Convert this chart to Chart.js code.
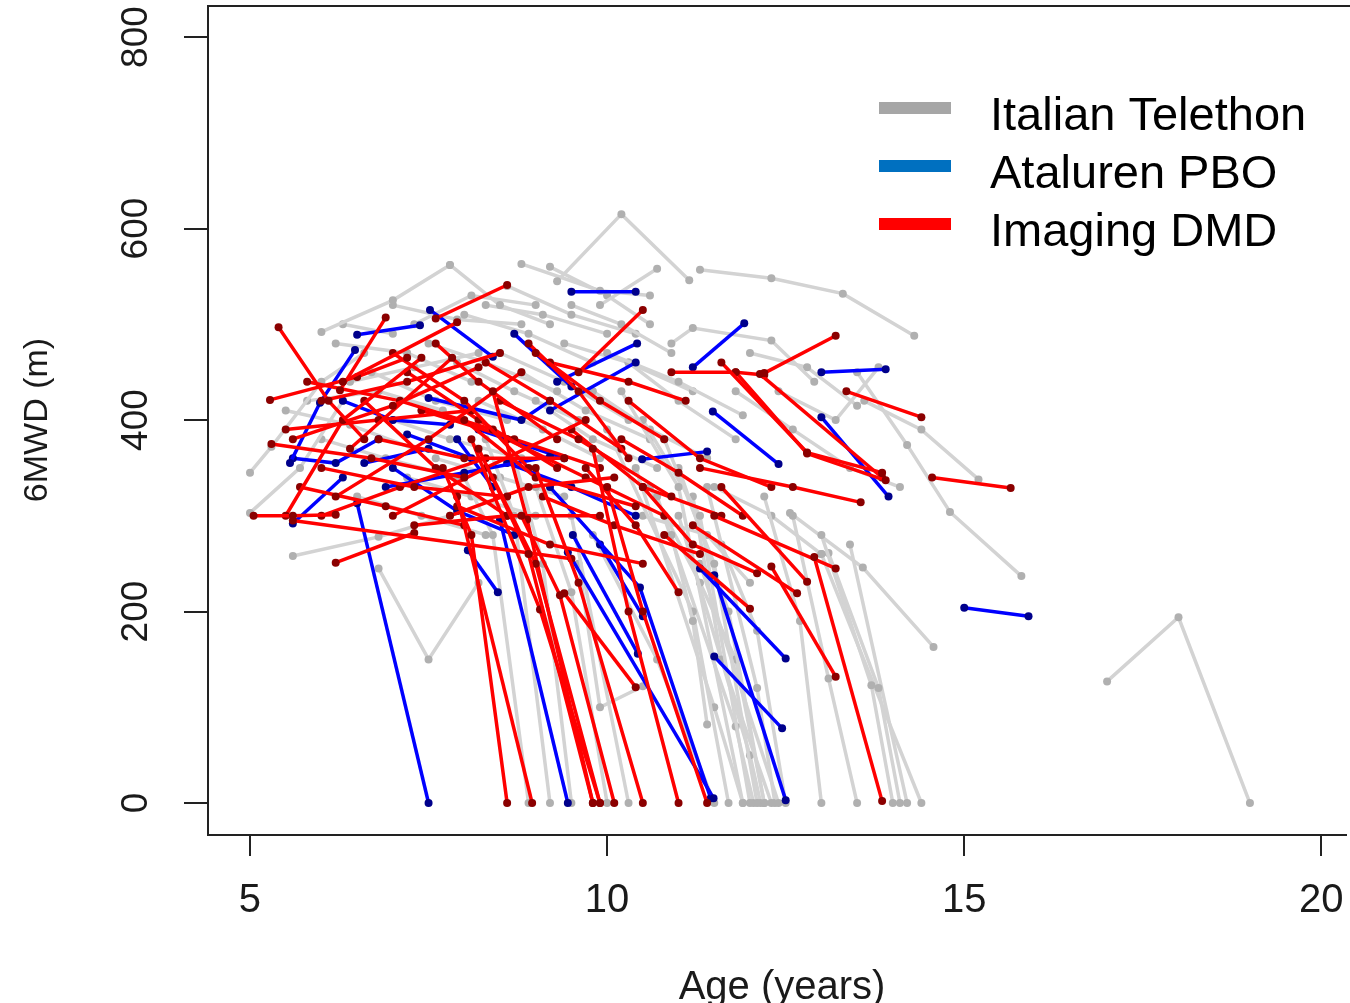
<!DOCTYPE html>
<html>
<head>
<meta charset="utf-8">
<script src="https://cdn.jsdelivr.net/npm/chart.js@4.4.1/dist/chart.umd.min.js"></script>
<style>
  html, body { margin: 0; padding: 0; background: #fff; overflow: hidden; }
  #wrap { width: 1350px; height: 1003px; }
</style>
</head>
<body>
<div id="wrap"><canvas id="chart" width="1350" height="1003"></canvas></div>
<script>
// tick labels and legend
const xTicks = [5, 10, 15, 20];
const yTicks = [0, 200, 400, 600, 800];
const legendLabels = ['Italian Telethon', 'Ataluren PBO', 'Imaging DMD'];

// trajectories: [age (years), 6MWD (m)] per visit
const telethon = [
    [[17.0, 127], [18.0, 194], [19.0, 0]],
    [[9.3, 545], [10.2, 615], [11.15, 546]],
    [[11.3, 557], [12.3, 548], [13.3, 532], [14.3, 488]],
    [[7.8, 562], [8.5, 520], [9.2, 500]],
    [[8.8, 563], [9.9, 535], [10.6, 530]],
    [[9.9, 520], [10.7, 558]],
    [[6.0, 492], [7.0, 525], [7.8, 562]],
    [[5.0, 345], [5.3, 372], [6.0, 440], [6.6, 470]],
    [[5.0, 303], [5.7, 350], [6.3, 420]],
    [[5.6, 258], [6.8, 278], [7.8, 300]],
    [[6.8, 245], [7.5, 150], [8.2, 230]],
    [[8.0, 340], [8.4, 280], [8.9, 0]],
    [[8.3, 380], [8.7, 300], [9.2, 0]],
    [[8.7, 360], [9.1, 250], [9.5, 0]],
    [[9.0, 330], [9.5, 220], [10.0, 0]],
    [[9.5, 300], [10.3, 0]],
    [[9.6, 250], [9.9, 100], [10.5, 122]],
    [[10.2, 430], [11.0, 330], [11.9, 0]],
    [[10.5, 400], [11.3, 300], [12.0, 0]],
    [[10.8, 380], [11.5, 250], [12.1, 0]],
    [[11.0, 350], [11.7, 200], [12.2, 0]],
    [[11.2, 320], [11.6, 150], [12.3, 0]],
    [[10.9, 280], [11.2, 190], [11.4, 82]],
    [[11.3, 250], [12.4, 0]],
    [[10.0, 390], [11.2, 200], [11.7, 0]],
    [[10.4, 350], [11.5, 100], [11.9, 0]],
    [[10.7, 320], [11.8, 80], [12.05, 0]],
    [[11.0, 300], [12.0, 50], [12.15, 0]],
    [[11.4, 330], [12.1, 120], [12.35, 0]],
    [[9.8, 280], [10.7, 150], [11.5, 0]],
    [[12.2, 320], [12.7, 190], [13.0, 0]],
    [[12.6, 300], [13.1, 130], [13.5, 0]],
    [[13.0, 280], [13.7, 123], [14.0, 0]],
    [[13.1, 261], [13.8, 120], [14.1, 0]],
    [[13.4, 270], [14.2, 0]],
    [[13.0, 260], [14.4, 0]],
    [[12.56, 303], [13.58, 246], [14.57, 163]],
    [[13.5, 450], [14.2, 374], [14.8, 304], [15.8, 237]],
    [[13.6, 420], [14.4, 390], [15.2, 338]],
    [[12.4, 430], [13.2, 400], [13.8, 455]],
    [[10.9, 480], [11.2, 496], [12.3, 483], [12.9, 440]],
    [[10.0, 470], [11.0, 440], [11.9, 405]],
    [[9.5, 520], [10.2, 500], [10.9, 470]],
    [[6.2, 480], [7.2, 470], [8.1, 440]],
    [[6.7, 450], [7.6, 420], [8.6, 400]],
    [[7.0, 400], [7.8, 380], [8.8, 360]],
    [[7.5, 480], [8.3, 460], [9.3, 430]],
    [[8.0, 510], [8.9, 490], [9.8, 460]],
    [[8.5, 470], [9.4, 440], [10.3, 400]],
    [[6.0, 380], [6.9, 360], [7.9, 340]],
    [[7.2, 340], [8.1, 320], [9.0, 300]],
    [[9.0, 420], [9.8, 380], [10.7, 350]],
    [[9.8, 430], [10.6, 390], [11.4, 360]],
    [[10.3, 460], [11.0, 420], [11.8, 380]],
    [[8.2, 420], [9.1, 390], [9.9, 360]],
    [[5.5, 410], [6.4, 395], [7.3, 370]],
    [[6.5, 320], [7.4, 300], [8.3, 280]],
    [[10.5, 300], [11.4, 280], [12.0, 230]],
    [[11.5, 330], [12.3, 300], [13.0, 260]],
    [[9.2, 560], [10.0, 530], [10.6, 500]],
    [[7.0, 520], [7.9, 505], [8.8, 500]],
    [[11.8, 430], [12.6, 390], [13.4, 350], [14.1, 330]],
    [[12.0, 470], [12.8, 455], [13.5, 415]],
    [[10.6, 330], [11.3, 230], [11.8, 150], [12.2, 0]],
    [[11.6, 270], [12.1, 180], [12.5, 0]],
    [[6.3, 500], [7.0, 490]],
    [[5.8, 420], [6.8, 430], [7.7, 410]],
    [[7.6, 360], [8.5, 340], [9.4, 320]],
    [[8.8, 450], [9.7, 410], [10.6, 380]],
    [[9.4, 480], [10.3, 460], [11.2, 430]],
    [[6.4, 440], [7.3, 455], [8.2, 470]],
    [[7.9, 460], [8.7, 430], [9.6, 400]],
    [[8.3, 520], [9.1, 510], [10.0, 490]],
    [[7.3, 500], [8.1, 530], [9.0, 520]],
    [[8.6, 540], [9.5, 510], [10.4, 490]]
];

const ataluren = [
    [[6.5, 313], [7.5, 0]],
    [[9.5, 534], [10.4, 534]],
    [[9.3, 440], [10.42, 480]],
    [[9.2, 410], [10.4, 460]],
    [[11.2, 455], [11.92, 501]],
    [[13.0, 450], [13.9, 453]],
    [[13.0, 403], [13.94, 320]],
    [[11.48, 409], [12.4, 354]],
    [[10.49, 359], [11.4, 367]],
    [[15.0, 204], [15.9, 195]],
    [[11.5, 153], [12.45, 78]],
    [[11.3, 245], [12.5, 151]],
    [[11.5, 238], [12.5, 3]],
    [[9.52, 280], [10.43, 156]],
    [[9.45, 262], [11.49, 5]],
    [[9.2, 330], [10.46, 225], [11.45, 5]],
    [[8.5, 296], [9.45, 0]],
    [[8.05, 264], [8.47, 220]],
    [[5.56, 355], [5.98, 418], [6.47, 473]],
    [[5.6, 292], [6.3, 340]],
    [[6.5, 489], [7.38, 499]],
    [[7.52, 515], [8.4, 466]],
    [[8.7, 490], [9.5, 435]],
    [[6.3, 420], [7.0, 400], [7.8, 395]],
    [[7.5, 423], [8.8, 400], [9.2, 420]],
    [[6.9, 330], [8.0, 345], [9.2, 362]],
    [[8.2, 390], [9.4, 360]],
    [[9.9, 270], [10.5, 195]],
    [[5.6, 360], [6.2, 355], [6.8, 380]],
    [[7.9, 380], [8.4, 330]],
    [[7.0, 350], [7.9, 305], [8.7, 280]],
    [[8.6, 355], [9.5, 330], [10.4, 300]],
    [[7.2, 385], [8.1, 360]],
    [[6.6, 355], [7.5, 370]]
];

const imaging = [
    [[5.4, 497], [6.1, 420], [6.6, 380]],
    [[7.6, 506], [8.6, 541]],
    [[6.3, 440], [7.9, 502]],
    [[9.6, 450], [10.5, 515]],
    [[12.2, 449], [13.2, 488]],
    [[13.35, 430], [14.4, 403]],
    [[14.55, 340], [15.65, 329]],
    [[11.6, 460], [12.8, 366], [13.85, 345]],
    [[11.8, 450], [12.8, 365], [13.9, 337]],
    [[12.14, 448], [13.85, 340]],
    [[11.3, 350], [12.6, 330], [13.55, 314]],
    [[12.3, 247], [13.2, 132]],
    [[12.9, 257], [13.85, 2]],
    [[11.5, 300], [13.2, 245]],
    [[11.6, 330], [12.8, 231]],
    [[11.2, 290], [12.66, 219]],
    [[10.8, 280], [12.0, 203]],
    [[7.7, 350], [8.1, 280], [8.6, 0]],
    [[7.9, 320], [8.95, 0]],
    [[8.2, 370], [8.9, 260], [9.8, 0]],
    [[8.4, 340], [9.0, 250], [9.9, 0]],
    [[8.8, 300], [9.34, 217], [10.1, 0]],
    [[9.0, 350], [9.6, 230], [10.5, 0]],
    [[9.8, 370], [10.3, 200], [11.0, 0]],
    [[10.0, 330], [10.5, 200], [11.4, 0]],
    [[8.4, 430], [8.88, 296], [9.8, 0]],
    [[8.1, 380], [9.06, 202], [9.9, 0]],
    [[9.4, 219], [10.4, 121]],
    [[5.05, 300], [5.6, 300], [6.2, 301]],
    [[5.6, 295], [9.5, 255]],
    [[6.2, 251], [7.3, 282]],
    [[5.28, 421], [6.5, 445], [7.2, 465]],
    [[5.5, 300], [6.3, 400], [7.4, 465]],
    [[5.3, 375], [6.7, 360], [8.0, 340]],
    [[5.6, 380], [7.0, 415], [8.2, 455]],
    [[6.0, 350], [7.3, 330], [8.6, 320]],
    [[6.26, 431], [6.9, 507]],
    [[6.4, 370], [7.83, 465]],
    [[7.6, 480], [8.2, 440], [9.3, 380]],
    [[6.2, 320], [7.5, 380], [8.8, 450]],
    [[7.0, 300], [8.3, 350], [9.7, 400]],
    [[7.9, 310], [9.2, 270], [10.5, 250]],
    [[7.3, 290], [8.6, 300], [9.9, 300]],
    [[8.5, 420], [9.6, 380], [10.9, 320]],
    [[9.0, 470], [9.9, 420], [10.8, 380]],
    [[9.5, 390], [10.5, 330], [11.6, 300]],
    [[10.3, 420], [11.3, 360], [12.3, 330]],
    [[10.9, 450], [11.8, 450], [12.2, 447]],
    [[9.2, 460], [10.3, 440], [11.1, 420]],
    [[8.0, 400], [9.0, 340], [10.4, 310]],
    [[6.8, 380], [8.0, 360], [9.4, 360]],
    [[6.0, 420], [7.2, 440], [8.5, 470]],
    [[9.7, 350], [10.4, 290], [11.0, 220]],
    [[10.5, 330], [11.2, 270], [12.1, 240]],
    [[7.0, 470], [8.0, 420], [8.9, 350]],
    [[8.9, 480], [9.6, 430], [10.3, 360]],
    [[5.5, 390], [6.8, 400], [8.1, 410]],
    [[5.8, 440], [7.1, 420], [8.4, 390]],
    [[6.6, 420], [7.6, 350], [8.6, 300]],
    [[7.2, 450], [8.2, 400], [9.3, 350]],
    [[6.0, 300], [7.1, 330], [8.3, 360]],
    [[7.8, 300], [8.9, 330], [10.1, 340]],
    [[8.6, 380], [9.7, 340], [10.8, 300]],
    [[9.1, 320], [10.1, 290], [11.3, 260]],
    [[5.7, 330], [6.9, 310], [8.0, 290]],
    [[8.3, 460], [9.2, 420], [10.2, 370]],
    [[10.2, 380], [11.0, 345], [11.9, 300]],
    [[7.4, 410], [8.7, 380], [9.9, 350]]
];

const FONT = '"Liberation Sans", Arial, sans-serif';
const TEXT = '#1a1a1a';

function toDatasets(list, line, dot, order) {
    return list.map(traj => ({
        data: traj.map(p => ({x: p[0], y: p[1]})),
        borderColor: line,
        borderWidth: 3.5,
        pointRadius: 4,
        pointBorderWidth: 0,
        pointBackgroundColor: dot,
        order: order
    }));
}

const datasets = [].concat(
    toDatasets(imaging, '#ff0000', '#8b0000', 1),
    toDatasets(ataluren, '#0000ff', '#00008b', 2),
    toDatasets(telethon, '#d3d3d3', '#b0b0b0', 3)
);

const rStyle = {
    id: 'rStyle',
    afterDraw(chart) {
        const {ctx, chartArea: a} = chart;
        const x = chart.scales.x, y = chart.scales.y;
        ctx.save();
        // top of the box
        ctx.strokeStyle = '#222';
        ctx.lineWidth = 2;
        ctx.beginPath();
        ctx.moveTo(a.left - 1, a.top);
        ctx.lineTo(1350, a.top);
        ctx.stroke();

        ctx.fillStyle = TEXT;
        ctx.textAlign = 'center';
        ctx.textBaseline = 'alphabetic';

        // x tick labels
        ctx.font = '40px ' + FONT;
        x.ticks.forEach(t => {
            ctx.fillText(String(t.value), x.getPixelForValue(t.value), 912);
        });
        // x title
        ctx.fillText('Age (years)', 782, 999);

        // y tick labels, rotated like R
        ctx.font = '37px ' + FONT;
        y.ticks.forEach(t => {
            ctx.save();
            ctx.translate(147, y.getPixelForValue(t.value));
            ctx.rotate(-Math.PI / 2);
            ctx.fillText(String(t.value), 0, 0);
            ctx.restore();
        });
        // y title
        ctx.save();
        ctx.font = '34px ' + FONT;
        ctx.translate(47, 420);
        ctx.rotate(-Math.PI / 2);
        ctx.fillText('6MWD (m)', 0, 0);
        ctx.restore();

        // legend
        const legendColors = ['#a6a6a6', '#0070c0', '#ff0000'];
        const rows = [108, 166, 224];
        ctx.font = '47px ' + FONT;
        ctx.textAlign = 'left';
        legendLabels.forEach((lab, i) => {
            ctx.fillStyle = legendColors[i];
            ctx.fillRect(879, rows[i] - 6, 72, 12);
            ctx.fillStyle = '#000';
            ctx.fillText(lab, 990, rows[i] + 22);
        });
        ctx.restore();
    }
};

window.addEventListener('load', function () {
    const ctx = document.getElementById('chart');

    new Chart(ctx, {
        type: 'line',
        data: { datasets: datasets },
        plugins: [rStyle],
        options: {
            responsive: false,
            animation: false,
            layout: { padding: { top: 6, right: 0, left: 0, bottom: 0 } },
            plugins: {
                legend: { display: false },
                tooltip: { enabled: false }
            },
            scales: {
                x: {
                    type: 'linear',
                    min: 4.412,
                    max: 20.345,
                    afterBuildTicks: s => { s.ticks = xTicks.map(v => ({value: v})); },
                    afterFit: s => { s.height = 168; },
                    ticks: { display: false },
                    grid: { drawOnChartArea: false, drawTicks: true, tickLength: 21, color: '#222', lineWidth: 2 },
                    border: { display: true, color: '#222', width: 2 }
                },
                y: {
                    type: 'linear',
                    min: -33.4,
                    max: 832.4,
                    afterBuildTicks: s => { s.ticks = yTicks.map(v => ({value: v})); },
                    afterFit: s => { s.width = 208; },
                    ticks: { display: false },
                    grid: { drawOnChartArea: false, drawTicks: true, tickLength: 24, color: '#222', lineWidth: 2 },
                    border: { display: true, color: '#222', width: 2 }
                }
            }
        }
    });
});
</script>
</body>
</html>
